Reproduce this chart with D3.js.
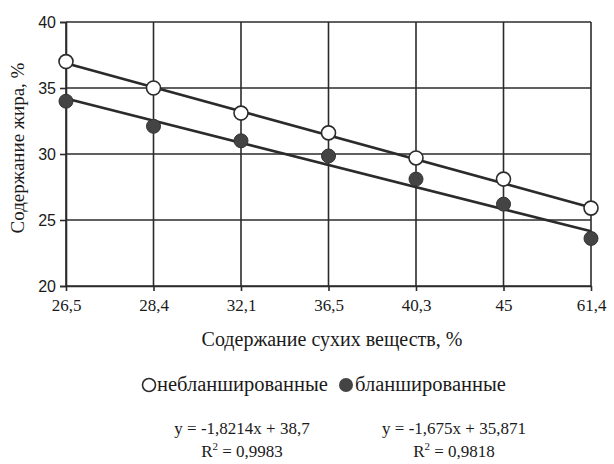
<!DOCTYPE html>
<html>
<head>
<meta charset="utf-8">
<script src="https://cdn.jsdelivr.net/npm/d3@7"></script>
<style>
  html, body { margin: 0; padding: 0; background: #fff; }
  svg { display: block; }
  .serif { font-family: "Liberation Serif", "Times New Roman", serif; }
  .sans { font-family: "Liberation Sans", Arial, sans-serif; }
</style>
</head>
<body>
<svg id="chart" width="614" height="464"></svg>
<script>
// Dry matter content categories (x axis)
const categories = ["26,5", "28,4", "32,1", "36,5", "40,3", "45", "61,4"];
// Fat content, %
const unblanched = [37.0, 35.0, 33.1, 31.6, 29.7, 28.1, 25.9];
const blanched   = [34.0, 32.1, 31.0, 29.85, 28.1, 26.2, 23.6];
// Linear trend coefficients (x = 1..7)
const trendUnblanched = { slope: -1.8214, intercept: 38.7 };
const trendBlanched   = { slope: -1.675, intercept: 35.871 };
const yTicks = [20, 25, 30, 35, 40];
const seriesNames = ["небланшированные", "бланшированные"];
const eqTexts = [["y = -1,8214x + 38,7", "0,9983"], ["y = -1,675x + 35,871", "0,9818"]];

const ink = "#2b2b2b";
const txt = "#1a1a1a";
const svg = d3.select("#chart");

const x = d3.scalePoint().domain(categories).range([66, 591]);
const y = d3.scaleLinear().domain([20, 40]).range([286, 22]);

// Horizontal grid lines
svg.append("g").selectAll("line").data(yTicks).join("line")
  .attr("x1", x.range()[0]).attr("x2", x.range()[1])
  .attr("y1", d => y(d)).attr("y2", d => y(d))
  .attr("stroke", ink).attr("stroke-width", 1.6);

// Vertical grid lines
svg.append("g").selectAll("line").data(categories).join("line")
  .attr("x1", d => x(d)).attr("x2", d => x(d))
  .attr("y1", y(40)).attr("y2", y(20))
  .attr("stroke", ink).attr("stroke-width", 1.6);

// Y axis
const yAxis = svg.append("g")
  .attr("transform", `translate(${x.range()[0]},0)`)
  .call(d3.axisLeft(y).tickValues(yTicks).tickSize(6).tickPadding(4).tickFormat(d3.format("d")));
yAxis.attr("font-family", null).attr("font-size", null);
yAxis.select(".domain").attr("stroke", ink).attr("stroke-width", 1.6);
yAxis.selectAll(".tick line").attr("stroke", ink).attr("stroke-width", 1.6);
yAxis.selectAll(".tick text").attr("class", "sans")
  .style("font-size", "16px").attr("fill", txt);

// X axis
const xAxis = svg.append("g")
  .attr("transform", `translate(0,${y(20)})`)
  .call(d3.axisBottom(x).tickSize(5).tickPadding(8).tickSizeOuter(0));
xAxis.attr("font-family", null).attr("font-size", null);
xAxis.select(".domain").attr("stroke", ink).attr("stroke-width", 1.6);
xAxis.selectAll(".tick line").attr("stroke", ink).attr("stroke-width", 1.6);
xAxis.selectAll(".tick text").attr("class", "serif")
  .style("font-size", "17px").attr("fill", txt);

// Trend lines
const idx = d => categories.indexOf(d) + 1;
[trendUnblanched, trendBlanched].forEach(t => {
  const first = categories[0], last = categories[categories.length - 1];
  svg.append("line")
    .attr("x1", x(first)).attr("y1", y(t.slope * idx(first) + t.intercept))
    .attr("x2", x(last)).attr("y2", y(t.slope * idx(last) + t.intercept))
    .attr("stroke", ink).attr("stroke-width", 2.6);
});

// Markers
svg.append("g").selectAll("circle").data(blanched).join("circle")
  .attr("cx", (d, i) => x(categories[i])).attr("cy", d => y(d))
  .attr("r", 7).attr("fill", "#444").attr("stroke", "#333").attr("stroke-width", 1);
svg.append("g").selectAll("circle").data(unblanched).join("circle")
  .attr("cx", (d, i) => x(categories[i])).attr("cy", d => y(d))
  .attr("r", 7).attr("fill", "#fff").attr("stroke", ink).attr("stroke-width", 1.6);

// Axis titles
svg.append("text").attr("class", "serif")
  .attr("x", 332).attr("y", 346).attr("text-anchor", "middle")
  .style("font-size", "20px").attr("fill", txt)
  .text("Содержание сухих веществ, %");
svg.append("text").attr("class", "serif")
  .attr("transform", "translate(24,148) rotate(-90)").attr("text-anchor", "middle")
  .style("font-size", "19px").attr("fill", txt)
  .text("Содержание жира, %");

// Legend
const legend = svg.append("g").attr("class", "serif").style("font-size", "20.5px").attr("fill", txt);
legend.append("circle").attr("cx", 149).attr("cy", 385).attr("r", 6.5)
  .attr("fill", "#fff").attr("stroke", ink).attr("stroke-width", 1.6);
legend.append("text").attr("x", 157).attr("y", 391).text(seriesNames[0]);
legend.append("circle").attr("cx", 346).attr("cy", 385).attr("r", 7)
  .attr("fill", "#444");
legend.append("text").attr("x", 355).attr("y", 391).text(seriesNames[1]);

// Regression equations
const eq = svg.append("g").attr("class", "serif").style("font-size", "17px").attr("fill", txt)
  .attr("text-anchor", "middle");
[242, 454].forEach((cx, i) => {
  eq.append("text").attr("x", cx).attr("y", 434).text(eqTexts[i][0]);
  const r = eq.append("text").attr("x", cx).attr("y", 457);
  r.append("tspan").text("R");
  r.append("tspan").attr("dy", -7).style("font-size", "11px").text("2");
  r.append("tspan").attr("dy", 7).text(" = " + eqTexts[i][1]);
});
</script>
</body>
</html>
